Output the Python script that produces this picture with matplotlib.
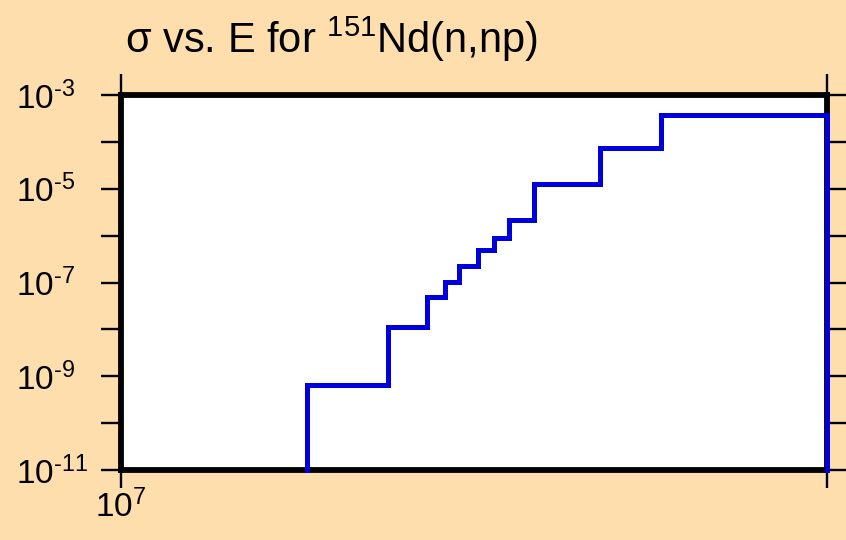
import matplotlib
matplotlib.use("Agg")
import matplotlib.pyplot as plt
from matplotlib.ticker import FixedLocator, NullLocator
import numpy as np

plt.rcParams['font.family'] = ['Liberation Sans', 'DejaVu Sans']
plt.rcParams['mathtext.fontset'] = 'custom'
plt.rcParams['mathtext.rm'] = 'Liberation Sans'
plt.rcParams['mathtext.it'] = 'Liberation Sans'
plt.rcParams['mathtext.bf'] = 'Liberation Sans'

# Group boundaries (eV) and cross sections (b) of the step histogram
energy_edges = [1.2e7, 1.3e7, 1.35e7, 1.375e7, 1.394e7, 1.42e7, 1.442e7,
                1.464e7, 1.5e7, 1.6e7, 1.7e7, 2.0e7]
xs_values = [6.5e-10, 1.14e-8, 5.0e-8, 1.01e-7, 2.25e-7, 4.93e-7, 9.0e-7,
             2.16e-6, 1.26e-5, 7.3e-5, 3.74e-4]

x_limits = [1e7, 2e7]
y_limits = [1e-11, 1e-3]
y_tick_exps = [-3, -4, -5, -6, -7, -8, -9, -10, -11]
y_label_exps = [-3, -5, -7, -9, -11]

bg = '#FFDEAD'
fig = plt.figure(figsize=(8.46, 5.40), dpi=100, facecolor=bg)
ax = fig.add_axes([121/846, 1-470/540, 706/846, 375/540])
ax.set_facecolor('white')
ax.set_xscale('log')
ax.set_yscale('log')
ax.set_xlim(*x_limits)
ax.set_ylim(*y_limits)

xs = [energy_edges[0]]
ys = [y_limits[0]]
for i, v in enumerate(xs_values):
    xs += [energy_edges[i], energy_edges[i+1]]
    ys += [v, v]
xs.append(energy_edges[-1])
ys.append(y_limits[0])

for s in ax.spines.values():
    s.set_linewidth(4.2)
    s.set_color('black')

ax.plot(xs, ys, color='#0000DD', lw=3.6, clip_on=False, zorder=5,
        solid_joinstyle='miter')

# y ticks
ax.yaxis.set_major_locator(FixedLocator([10.0**e for e in y_tick_exps]))
ax.yaxis.set_minor_locator(NullLocator())
ax.set_yticklabels([r'$10^{\text{-}%d}$' % (-e) if e in y_label_exps else ''
                    for e in y_tick_exps])
ax.tick_params(axis='y', which='major', direction='out', length=14.5,
               width=1.7, left=True, right=True, labelsize=24,
               pad=61, color='black')
for lab in ax.get_yticklabels():
    lab.set_horizontalalignment('left')

# x ticks
ax.xaxis.set_major_locator(FixedLocator(x_limits))
ax.xaxis.set_minor_locator(NullLocator())
ax.set_xticklabels([r'$10^{7}$', ''])
ax.tick_params(axis='x', which='major', direction='out', length=13,
               width=1.7, top=True, bottom=True, labelsize=24, pad=1,
               color='black')
for t in ax.xaxis.get_major_ticks():
    t.tick2line.set_markersize(15)

fig.text(125/846, 1-53/540, r'$\sigma$ vs. E for $^{151}$Nd(n,np)',
         fontsize=30, ha='left', va='baseline')

fig.savefig('out.png', dpi=100, facecolor=bg)
